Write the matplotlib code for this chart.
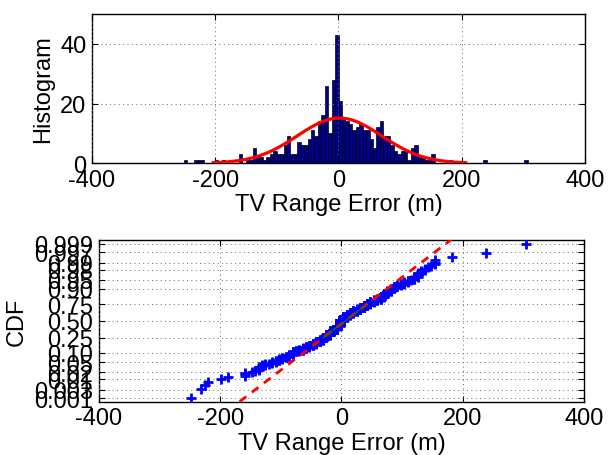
import numpy as np
import matplotlib
matplotlib.use("Agg")
import matplotlib.pyplot as plt
from statistics import NormalDist

# ---------------- data ----------------
bin_lo = -251.0
bin_hi = 307.5
counts = [1, 0, 0, 1, 1, 1, 0, 0, 0, 1,
          0, 1, 0, 0, 0, 0, 3, 0, 1, 1,
          5, 2, 2, 1, 2, 3, 4, 3, 3, 6,
          9, 3, 3, 7, 6, 6, 8, 11, 9, 14,
          16, 26, 10, 28, 43, 21, 15, 14, 13, 11,
          12, 13, 11, 11, 8, 5, 12, 14, 9, 9,
          6, 4, 3, 4, 4, 1, 5, 6, 2, 2,
          1, 1, 3, 0, 0, 0, 0, 1, 0, 0,
          0, 0, 0, 0, 0, 0, 0, 1, 0, 0,
          0, 0, 0, 0, 0, 0, 0, 0, 0, 1]
fit_mean = 1.8
fit_std = 68.3

x_ticks = [-400, -200, 0, 200, 400]
hist_yticks = [0, 20, 40]
prob_ticks = [0.001, 0.003, 0.01, 0.02, 0.05, 0.10, 0.25, 0.50,
              0.75, 0.90, 0.95, 0.98, 0.99, 0.997, 0.999]
prob_labels = ['0.001', '0.003', '0.01', '0.02', '0.05', '0.10', '0.25', '0.50',
               '0.75', '0.90', '0.95', '0.98', '0.99', '0.997', '0.999']
xlabel_text = 'TV Range Error (m)'

# ---------------- derived ----------------
counts = np.array(counts)
edges = np.linspace(bin_lo, bin_hi, len(counts) + 1)
centers = 0.5 * (edges[:-1] + edges[1:])
bw = edges[1] - edges[0]
samples = np.sort(np.repeat(centers, counts))
n = samples.size
nd = NormalDist()
zpos = np.array([nd.inv_cdf((i - 0.5) / n) for i in range(1, n + 1)])

plt.rcParams['font.family'] = ['Liberation Sans', 'DejaVu Sans']
plt.rcParams['axes.unicode_minus'] = False
FS = 17

fig = plt.figure(figsize=(6.13, 4.56), dpi=100)
ax1 = fig.add_axes([0.150, 0.640, 0.804, 0.327])
ax2 = fig.add_axes([0.1615, 0.117, 0.791, 0.355])

grid_kw = dict(color='0.4', linestyle=(0, (1, 3.5)), linewidth=0.7)

def style(ax):
    for s in ax.spines.values():
        s.set_linewidth(1.0)
        s.set_color('black')
    ax.tick_params(direction='in', length=4, width=0.8, top=True, right=True,
                   labelsize=FS, pad=4)
    ax.set_axisbelow(False)

# ---- histogram ----
ax1.bar(edges[:-1], counts, width=bw, align='edge', color=(0, 0, 0.5625),
        edgecolor='black', linewidth=0.5, zorder=2)
xf = fit_mean + fit_std * np.arange(-3, 3.0001, 0.1)
yf = n * bw * np.array([NormalDist(fit_mean, fit_std).pdf(v) for v in xf])
ax1.plot(xf, yf, color='red', linewidth=2.3, zorder=3)
ax1.set_xlim(-400, 400)
ax1.set_ylim(0, 50)
ax1.set_xticks(x_ticks)
ax1.set_yticks(hist_yticks)
ax1.grid(True, **grid_kw)
ax1.set_xlabel(xlabel_text, fontsize=FS, labelpad=2)
ax1.set_ylabel('Histogram', fontsize=FS)
ax1.yaxis.set_label_coords(-0.077, 0.5)
style(ax1)

# ---- normal probability plot ----
q1, q3 = np.percentile(samples, [25, 75])
z1, z3 = nd.inv_cdf(0.25), nd.inv_cdf(0.75)
slope = (q3 - q1) / (z3 - z1)
ylim = (-3.23, 3.25)
zl = np.array(ylim)
xl = q1 + (zl - z1) * slope
ax2.plot(samples, zpos, '+', color='blue', markersize=7, markeredgewidth=2,
         zorder=3)
ax2.plot(xl, zl, color='red', linestyle=(0, (3, 2.5)), linewidth=2, zorder=4)
ax2.plot([q1, q3], [z1, z3], color='green', linewidth=0.8, zorder=5)
ax2.set_xlim(-400, 400)
ax2.set_ylim(*ylim)
ax2.set_xticks(x_ticks)
ax2.set_yticks([nd.inv_cdf(p) for p in prob_ticks])
ax2.set_yticklabels(prob_labels)
ax2.grid(True, **grid_kw)
ax2.set_xlabel(xlabel_text, fontsize=FS, labelpad=2)
ax2.set_ylabel('CDF', fontsize=FS)
ax2.yaxis.set_label_coords(-0.146, 0.5)
style(ax2)

fig.savefig('out.png', dpi=100)
